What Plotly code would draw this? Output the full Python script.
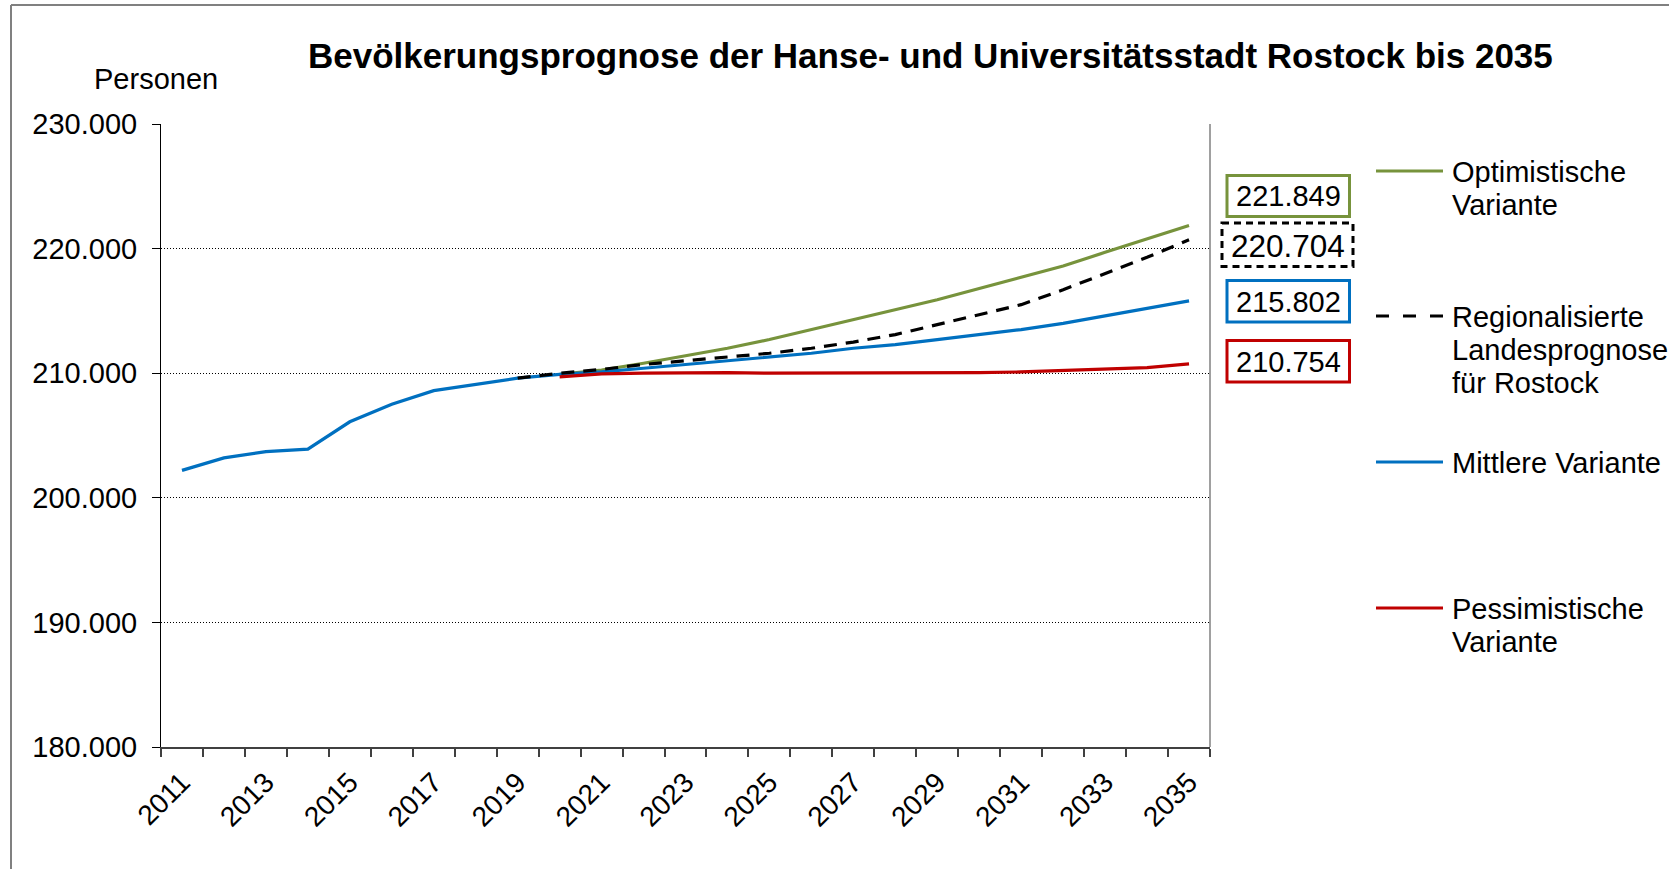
import plotly.graph_objects as go

# ---------------- data ----------------
title_text = "Bevölkerungsprognose der Hanse- und Universitätsstadt Rostock bis 2035"
y_title = "Personen"

years_mittlere = list(range(2011, 2036))
mittlere = [202200, 203200, 203700, 203900, 206100, 207500, 208600, 209100, 209600, 209900,
            210100, 210400, 210700, 211000, 211300, 211600, 212000, 212300, 212700, 213100,
            213500, 214000, 214600, 215200, 215802]

years_opt = list(range(2020, 2036))
optimistisch = [209900, 210250, 210800, 211400, 212000, 212700, 213500, 214300, 215100, 215900,
                216800, 217700, 218600, 219700, 220800, 221849]

years_reg = list(range(2019, 2036))
regional = [209600, 210000, 210300, 210700, 211000, 211300, 211600, 212000, 212500, 213100,
            213900, 214700, 215500, 216700, 218000, 219300, 220704]

years_pes = list(range(2020, 2036))
pessimistisch = [209700, 209950, 210000, 210050, 210050, 210000, 210000, 210000, 210000, 210000,
                 210050, 210100, 210200, 210300, 210450, 210754]

y_ticks = [180000, 190000, 200000, 210000, 220000, 230000]
x_tick_years = list(range(2011, 2036, 2))

legend_names = {
    "opt": ["Optimistische", "Variante"],
    "reg": ["Regionalisierte", "Landesprognose", "für Rostock"],
    "mit": ["Mittlere Variante"],
    "pes": ["Pessimistische", "Variante"],
}

# ---------------- style ----------------
FONT = "Liberation Sans, Arial, sans-serif"
GREEN = "#77933C"
BLUE = "#0070C0"
RED = "#C00000"
BLACK = "#000000"
W, H = 1669, 869
L, RIGHT, T, BOT = 161, 1210, 124, 747   # plot area in pixels
PW, PH = RIGHT - L, BOT - T


def px(x):
    return (x - L) / PW


def py(y):
    return (BOT - y) / PH


def de(v):
    return f"{v:,}".replace(",", ".")


fig = go.Figure()
fig.add_trace(go.Scatter(x=years_opt, y=optimistisch, mode="lines", name="Optimistische Variante",
                         line=dict(color=GREEN, width=3.2), showlegend=False))
fig.add_trace(go.Scatter(x=years_mittlere, y=mittlere, mode="lines", name="Mittlere Variante",
                         line=dict(color=BLUE, width=3.2), showlegend=False))
fig.add_trace(go.Scatter(x=years_reg, y=regional, mode="lines",
                         name="Regionalisierte Landesprognose für Rostock",
                         line=dict(color=BLACK, width=3.2, dash="13px,9px"), showlegend=False))
fig.add_trace(go.Scatter(x=years_pes, y=pessimistisch, mode="lines", name="Pessimistische Variante",
                         line=dict(color=RED, width=3.2), showlegend=False))

shapes = []
annotations = []

# outer chart frame (top & left)
shapes.append(dict(type="line", xref="paper", yref="paper", x0=px(11), x1=px(W + 20), y0=py(5), y1=py(5),
                   line=dict(color="#808080", width=2)))
shapes.append(dict(type="line", xref="paper", yref="paper", x0=px(11), x1=px(11), y0=py(5), y1=py(H + 20),
                   line=dict(color="#808080", width=2)))
# right plot border
shapes.append(dict(type="line", xref="paper", yref="paper", x0=1, x1=1, y0=0, y1=1,
                   line=dict(color="#808080", width=1.5)))

# title and axis title
annotations.append(dict(text=f"<b>{title_text}</b>", xref="paper", yref="paper", x=px(930), y=py(55),
                        xanchor="center", yanchor="middle", showarrow=False,
                        font=dict(family=FONT, size=35, color=BLACK)))
annotations.append(dict(text=y_title, xref="paper", yref="paper", x=px(156), y=py(79),
                        xanchor="center", yanchor="middle", showarrow=False,
                        font=dict(family=FONT, size=29, color=BLACK)))

# end value boxes
boxes = [
    (optimistisch[-1], GREEN, "solid", (1227, 1349.5, 175.5, 216.5), 196, 29),
    (regional[-1], BLACK, "7px,5px", (1222, 1353, 223, 266.5), 245.5, 31.5),
    (mittlere[-1], BLUE, "solid", (1227, 1349.5, 280.5, 322), 301.5, 29),
    (pessimistisch[-1], RED, "solid", (1227, 1349.5, 340.5, 382), 361.5, 29),
]
for val, col, dash, (x0, x1, y0, y1), yc, fs in boxes:
    shapes.append(dict(type="rect", xref="paper", yref="paper", x0=px(x0), x1=px(x1), y0=py(y0), y1=py(y1),
                       line=dict(color=col, width=3, dash=dash), fillcolor="white"))
    annotations.append(dict(text=de(val), xref="paper", yref="paper", x=px((x0 + x1) / 2), y=py(yc),
                            xanchor="center", yanchor="middle", showarrow=False,
                            font=dict(family=FONT, size=fs, color=BLACK)))

# manual legend
legend_items = [
    ("opt", GREEN, "solid", 171),
    ("reg", BLACK, "13px,14px", 316),
    ("mit", BLUE, "solid", 462),
    ("pes", RED, "solid", 608),
]
for key, col, dash, ys in legend_items:
    shapes.append(dict(type="line", xref="paper", yref="paper", x0=px(1376), x1=px(1443), y0=py(ys), y1=py(ys),
                       line=dict(color=col, width=3.2, dash=dash)))
    for i, line_txt in enumerate(legend_names[key]):
        annotations.append(dict(text=line_txt, xref="paper", yref="paper", x=px(1450), y=py(ys + 1 + i * 33),
                                xanchor="left", yanchor="middle", showarrow=False,
                                font=dict(family=FONT, size=29, color=BLACK)))

fig.update_layout(
    width=W, height=H,
    margin=dict(l=L, r=W - RIGHT, t=T, b=H - BOT, pad=0),
    paper_bgcolor="white", plot_bgcolor="white",
    font=dict(family=FONT, color=BLACK),
    shapes=shapes, annotations=annotations,
    showlegend=False,
)
fig.update_xaxes(
    range=[2010.5, 2035.5],
    tickmode="array", tickvals=x_tick_years, ticktext=[str(y) for y in x_tick_years],
    tickangle=-45, ticks="", tickfont=dict(family=FONT, size=28, color=BLACK),
    ticklabelstandoff=6,
    showgrid=False, zeroline=False,
    showline=True, linecolor="#404040", linewidth=1.5,
    minor=dict(tickmode="linear", tick0=2010.5, dtick=1, ticks="outside", ticklen=8,
               tickcolor="#404040", tickwidth=1.5, showgrid=False),
)
fig.update_yaxes(
    range=[180000, 230000],
    tickmode="array", tickvals=y_ticks, ticktext=[de(v) for v in y_ticks],
    ticks="outside", ticklen=8, tickcolor=BLACK, tickwidth=1,
    ticklabelstandoff=9,
    tickfont=dict(family=FONT, size=29, color=BLACK),
    showgrid=True, gridcolor=BLACK, gridwidth=1, griddash="1px,2px",
    zeroline=False, showline=True, linecolor=BLACK, linewidth=1,
)

fig.write_html("out.html", config={"displayModeBar": False},
               post_script="document.body.style.margin='0';document.body.style.padding='0';")
